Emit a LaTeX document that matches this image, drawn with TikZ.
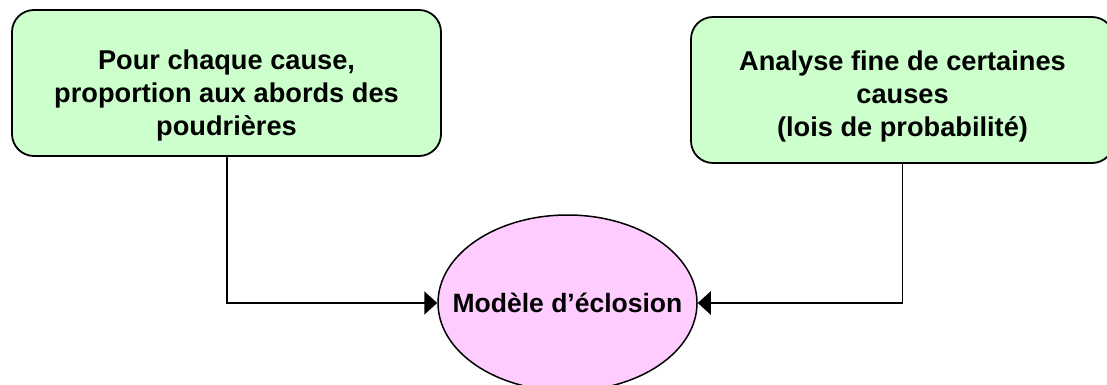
\documentclass[tikz,border=0pt]{standalone}
\usepackage{fontspec}
\setmainfont{Liberation Sans}
\usetikzlibrary{shapes.geometric,arrows.meta}
\definecolor{boxgreen}{HTML}{CCFFCC}
\definecolor{ovalpink}{HTML}{FFCCFF}
\begin{document}
\begin{tikzpicture}[x=1pt,y=-1pt,
  causebox/.style={draw=black, line width=1.8pt, fill=boxgreen, rounded corners=22pt,
    align=center, font=\fontsize{27.2}{33}\selectfont\bfseries, inner sep=0pt},
  model/.style={ellipse, draw=black, line width=1.5pt, fill=ovalpink,
    font=\fontsize{26.5}{33}\selectfont\bfseries, inner xsep=-40pt, inner ysep=0pt,
    minimum width=259pt, minimum height=176pt},
  tip/.style={-{Triangle[length=13pt,width=23pt]}}]
\useasboundingbox (0,0) rectangle (1107,385);
\node[causebox, minimum width=429pt, minimum height=146pt] (cause) at (226.5,83)
  {\rule{0pt}{44pt}Pour chaque cause,\\proportion aux abords des\\poudrières};
\node[causebox, minimum width=423pt, minimum height=146pt] (fine) at (902.5,90)
  {\rule{0pt}{33pt}Analyse fine de certaines\\causes\\(lois de probabilité)};
\node[model] (eclo) at (567.5,303) {Modèle d’éclosion};
\draw[line width=2pt, tip] (cause.south) |- (eclo.west);
\coordinate (rc) at (fine.south |- eclo.east);
\draw[line width=1.2pt] (fine.south) -- (rc);
\draw[line width=2.5pt, tip] ([xshift=0.6pt]rc) -- (eclo.east);
\end{tikzpicture}
\end{document}
